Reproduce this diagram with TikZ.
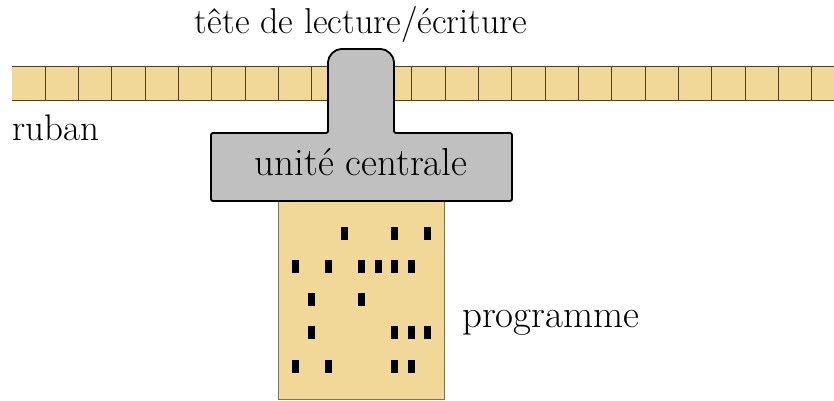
\documentclass[tikz,border=0pt]{standalone}
\usepackage{tikz}
\definecolor{tan}{RGB}{242,216,152}
\definecolor{headgray}{RGB}{192,192,192}
\definecolor{tapeline}{RGB}{80,62,30}
\definecolor{boxline}{RGB}{130,115,85}
\tikzset{
  lbl/.style={inner sep=0pt},
}
\begin{document}
\begin{tikzpicture}[x=1pt,y=1pt]
\useasboundingbox (0,0) rectangle (834,400);
% tape
\fill[tan] (12,300) rectangle (840,334);
\draw[tapeline, line width=1pt] (12,334) -- (840,334);
\draw[tapeline, line width=1pt] (12,300) -- (840,300);
\foreach \k in {1,...,24} {
  \draw[tapeline, line width=1pt] ({12+33.33*\k},300) -- ({12+33.33*\k},334);
}
% program box
\draw[boxline, fill=tan, line width=1pt] (278,1) rectangle (444,199);
\foreach \c/\r in {4/1,7/1,9/1, 1/2,3/2,5/2,6/2,7/2,8/2, 2/3,5/3, 2/4,7/4,8/4,9/4, 1/5,3/5,7/5,8/5} {
  \fill[black] ({295+16.6*(\c-1)-3.5},{166.7-33.2*(\r-1)-6.5}) rectangle ++(7,13);
}
% head / central unit
\draw[fill=headgray, line width=1.8pt, line join=round, rounded corners=2pt]
  (211,199) -- (211,267) -- (328,267) -- (328,336)
  arc[start angle=180, end angle=90, radius=15] -- (379,351)
  arc[start angle=90, end angle=0, radius=15] -- (394,267) -- (512,267) -- (512,199) -- cycle;
% labels
\node[lbl, anchor=base, font=\fontsize{36}{42}\selectfont] (head) at (361,366.5) {tête de lecture/écriture};
\node[lbl, anchor=base west, font=\fontsize{37}{42}\selectfont] (ruban) at (12,260) {ruban};
\node[lbl, anchor=base, font=\fontsize{39}{44}\selectfont] (cpu) at (361,225) {unité centrale};
\node[lbl, anchor=base west, font=\fontsize{39}{44}\selectfont] (prog) at (462,73) {programme};
\end{tikzpicture}
\end{document}
